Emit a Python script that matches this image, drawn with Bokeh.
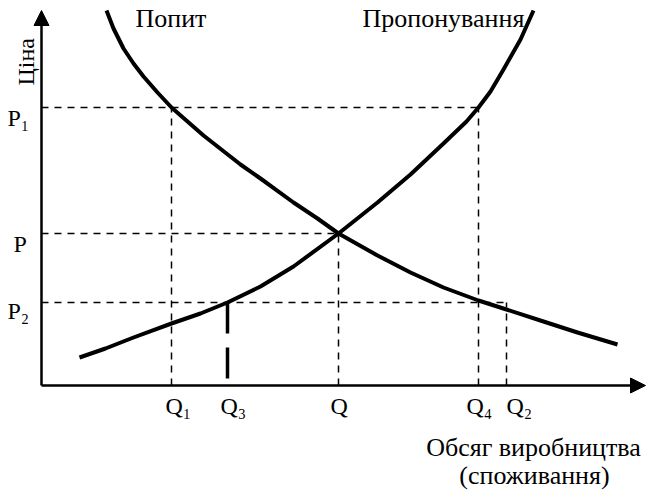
import math
from bokeh.plotting import figure
from bokeh.models import Range1d, Arrow, NormalHead, Label
from bokeh.embed import file_html
from bokeh.resources import INLINE

# ---- data (arbitrary units) ----
demand_q = [65, 72, 82, 92, 102, 116, 130, 162, 199, 219, 252, 276, 297, 336, 369, 402, 437, 465, 502, 536, 576]
demand_p = [375, 357, 337, 322, 309, 293, 278, 250, 221, 207, 183, 167, 152, 130, 113, 98, 85, 76, 64, 53, 41]

supply_q = [38, 64, 92, 130, 159, 186, 219, 252, 297, 336, 369, 402, 425, 437, 449, 462, 479, 492]
supply_p = [28, 37, 48, 62, 72, 83, 99, 119, 152, 183, 211, 242, 264, 278, 294, 316, 346, 375]

q_names = ["Q₁", "Q₃", "Q", "Q₄", "Q₂"]
q_values = [130, 186, 297, 437, 465]
p_names = ["P₁", "P", "P₂"]
p_values = [278, 152, 83]

Q1, Q3, Q, Q4, Q2 = q_values
P1, P, P2 = p_values

FONT = "Liberation Serif"

p = figure(width=648, height=496, x_range=Range1d(-41, 607), y_range=Range1d(-111, 385),
           output_backend="svg", toolbar_location=None, min_border=0,
           x_axis_type=None, y_axis_type=None)
p.grid.visible = False
p.outline_line_color = None
p.background_fill_color = "white"
p.border_fill_color = "white"

# dashed guide lines
dash = dict(line_color="black", line_width=1.5, line_dash="7 6")
p.segment(x0=[0, 0, 0], y0=[P1, P, P2], x1=[Q4, Q, Q2], y1=[P1, P, P2], **dash)
p.segment(x0=[Q1, Q, Q4, Q2], y0=[0, 0, 0, 0], x1=[Q1, Q, Q4, Q2], y1=[P1, P, P1, P2], **dash)

# thick dashed line at Q3
p.segment(x0=[Q3], y0=[P2], x1=[Q3], y1=[7], line_color="black", line_width=3.5, line_dash="31 14")

# curves
p.line(demand_q, demand_p, line_color="black", line_width=4, line_join="round", line_cap="butt")
p.line(supply_q, supply_p, line_color="black", line_width=4, line_join="round", line_cap="butt")

# axes with arrows
p.add_layout(Arrow(end=NormalHead(size=15, fill_color="black", line_color="black"),
                   x_start=0, y_start=0, x_end=0, y_end=375, line_width=2.5, line_color="black"))
p.add_layout(Arrow(end=NormalHead(size=15, fill_color="black", line_color="black"),
                   x_start=0, y_start=0, x_end=604, y_end=0, line_width=2.5, line_color="black"))

# curve labels
p.add_layout(Label(x=94, y=353, text="Попит", text_font=FONT, text_font_size="26px", text_color="black"))
p.add_layout(Label(x=321, y=353, text="Пропонування", text_font=FONT, text_font_size="26px", text_color="black"))
p.add_layout(Label(x=-3, y=300, text="Ціна", angle=math.pi / 2, text_font=FONT,
                   text_font_size="24px", text_color="black"))

# Q labels
q_offsets = [-6, -7, -8, -12, 0]
for name, qv, off in zip(q_names, q_values, q_offsets):
    p.add_layout(Label(x=qv + off, y=-33, text=name, text_font=FONT, text_font_size="24px",
                       text_color="black", text_align="left"))

# P labels
p_lefts = [-34, -28, -34]
p_drops = [23, 23, 21]
for name, pv, lx, d in zip(p_names, p_values, p_lefts, p_drops):
    p.add_layout(Label(x=lx, y=pv - d, text=name, text_font=FONT, text_font_size="24px",
                       text_color="black", text_align="left"))

# axis title
p.add_layout(Label(x=492, y=-76, text="Обсяг виробництва", text_font=FONT, text_font_size="26px",
                   text_color="black", text_align="center"))
p.add_layout(Label(x=493, y=-104, text="(споживання)", text_font=FONT, text_font_size="26px",
                   text_color="black", text_align="center"))

open("out.html", "w").write(file_html(p, INLINE))
